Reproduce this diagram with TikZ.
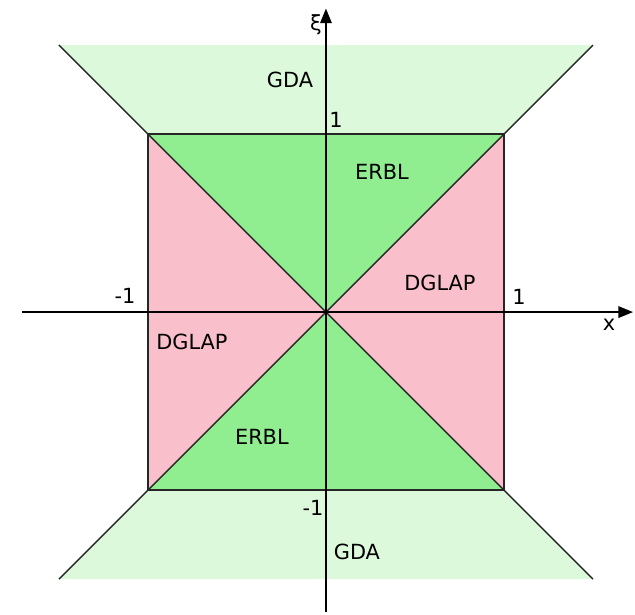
\documentclass[tikz,border=0pt]{standalone}
\usepackage{fontspec}
\setmainfont{DejaVu Sans}
\usetikzlibrary{arrows.meta}
\definecolor{bandgreen}{RGB}{220,249,220}
\definecolor{erblgreen}{RGB}{144,238,144}
\definecolor{dglappink}{RGB}{249,192,203}
\tikzset{
  lbl/.style={inner sep=0pt, font=\fontsize{10}{12}\selectfont},
  edge/.style={line width=0.65pt, black!85},
  axis/.style={line width=0.8pt, -{Triangle[length=7pt,width=5.5pt]}},
}
\begin{document}
\begin{tikzpicture}[x=3cm,y=3cm]
\useasboundingbox (-1.831,-1.697) rectangle (1.736,1.753);
% corners
\coordinate (A) at (-1,1);
\coordinate (B) at (1,1);
\coordinate (C) at (1,-1);
\coordinate (D) at (-1,-1);
\coordinate (O) at (0,0);
\coordinate (TL) at (-1.5,1.5);
\coordinate (TR) at (1.5,1.5);
\coordinate (BL) at (-1.5,-1.5);
\coordinate (BR) at (1.5,-1.5);
% GDA bands
\fill[bandgreen] (A) -- (TL) -- (TR) -- (B) -- cycle;
\fill[bandgreen] (D) -- (BL) -- (BR) -- (C) -- cycle;
% square
\fill[dglappink] (A) rectangle (C);
\fill[erblgreen] (A) -- (B) -- (O) -- cycle;
\fill[erblgreen] (D) -- (C) -- (O) -- cycle;
\draw[edge] (A) -- (B) -- (C) -- (D) -- cycle;
\draw[edge] (A) -- (C);
\draw[edge] (B) -- (D);
\draw[edge] (A) -- (TL);
\draw[edge] (B) -- (TR);
\draw[edge] (D) -- (BL);
\draw[edge] (C) -- (BR);
% axes
\coordinate (xs) at (-1.708,0);
\coordinate (xe) at (1.725,0);
\coordinate (ys) at (0,-1.685);
\coordinate (ye) at (0,1.705);
\draw[axis] (xs) -- (xe);
\draw[axis] (ys) -- (ye);
% labels
\node[lbl] (xi) at (-0.056,1.612) {ξ};
\node[lbl] (gdat) at (-0.202,1.303) {GDA};
\node[lbl] (onet) at (0.056,1.079) {1};
\node[lbl] (erblt) at (0.315,0.787) {ERBL};
\node[lbl] (dglapr) at (0.640,0.163) {DGLAP};
\node[lbl] (monel) at (-1.129,0.090) {-1};
\node[lbl] (oner) at (1.084,0.084) {1};
\node[lbl] (xl) at (1.590,-0.073) {x};
\node[lbl] (dglapl) at (-0.753,-0.169) {DGLAP};
\node[lbl] (erblb) at (-0.360,-0.702) {ERBL};
\node[lbl] (moneb) at (-0.073,-1.101) {-1};
\node[lbl] (gdab) at (0.174,-1.348) {GDA};
\end{tikzpicture}
\end{document}
